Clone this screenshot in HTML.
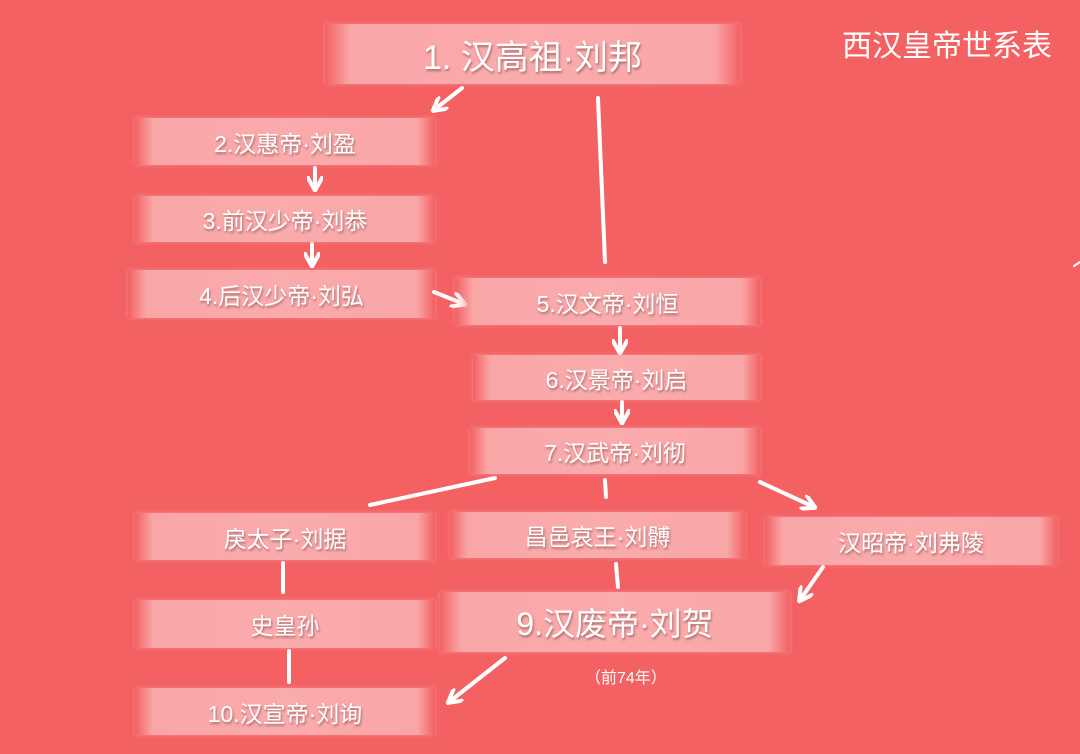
<!DOCTYPE html>
<html><head><meta charset="utf-8"><style>
body{margin:0;width:1080px;height:754px;background:#f36163;position:relative;overflow:hidden;font-family:"Liberation Sans","Noto Sans CJK SC",sans-serif}
.b{position:absolute;display:flex;align-items:center;justify-content:center;color:#fff;font-size:23px;text-shadow:1px 2px 2px rgba(120,70,70,.6);
background:linear-gradient(to right,rgba(250,170,172,0),#f9a6a7 6%,#faabac 50%,#f9a6a7 94%,rgba(250,170,172,0));
box-shadow:0 0 4px rgba(250,170,172,.6)}
svg{position:absolute;left:0;top:0}
</style></head><body>
<svg width="1080" height="754">
<defs><marker id="a" viewBox="0 0 10 10" refX="8" refY="5" markerWidth="4" markerHeight="4" orient="auto"><path d="M0,0 L9,5 L0,10" fill="none" stroke="#fff" stroke-width="2.5"/></marker></defs>
<g stroke="#fff" stroke-width="4" fill="none" stroke-linecap="round">
<line x1="462" y1="88" x2="434" y2="110" marker-end="url(#a)"/>
<line x1="598" y1="98" x2="605" y2="262"/>
<line x1="315" y1="168" x2="315" y2="189" marker-end="url(#a)"/>
<line x1="312" y1="244" x2="312" y2="265" marker-end="url(#a)"/>
<line x1="434" y1="292" x2="464" y2="304" marker-end="url(#a)"/>
<line x1="620" y1="328" x2="620" y2="352" marker-end="url(#a)"/>
<line x1="622" y1="402" x2="622" y2="422" marker-end="url(#a)"/>
<line x1="495" y1="478" x2="370" y2="505"/>
<line x1="605" y1="480" x2="606" y2="497"/>
<line x1="760" y1="482" x2="814" y2="507" marker-end="url(#a)"/>
<line x1="283" y1="563" x2="283" y2="592"/>
<line x1="616" y1="564" x2="618" y2="587"/>
<line x1="823" y1="567" x2="800" y2="600" marker-end="url(#a)"/>
<line x1="289" y1="651" x2="289" y2="682"/>
<line x1="505" y1="658" x2="449" y2="702" marker-end="url(#a)"/>
<line x1="1074" y1="266" x2="1080" y2="262" stroke-width="2"/>
</g></svg>
<div class="b" style="left:325px;top:24px;width:415px;height:60px;font-size:34px">1. 汉高祖·刘邦</div>
<div class="b" style="left:135px;top:118px;width:300px;height:47px">2.汉惠帝·刘盈</div>
<div class="b" style="left:135px;top:196px;width:300px;height:46px">3.前汉少帝·刘恭</div>
<div class="b" style="left:128px;top:270px;width:307px;height:48px">4.后汉少帝·刘弘</div>
<div class="b" style="left:455px;top:278px;width:305px;height:47px">5.汉文帝·刘恒</div>
<div class="b" style="left:473px;top:355px;width:287px;height:45px">6.汉景帝·刘启</div>
<div class="b" style="left:470px;top:428px;width:290px;height:46px">7.汉武帝·刘彻</div>
<div class="b" style="left:135px;top:513px;width:300px;height:47px">戾太子·刘据</div>
<div class="b" style="left:450px;top:512px;width:295px;height:46px">昌邑哀王·刘髆</div>
<div class="b" style="left:765px;top:517px;width:292px;height:48px">汉昭帝·刘弗陵</div>
<div class="b" style="left:135px;top:600px;width:300px;height:48px">史皇孙</div>
<div class="b" style="left:440px;top:592px;width:350px;height:60px;font-size:32px">9.汉废帝·刘贺</div>
<div class="b" style="left:135px;top:688px;width:300px;height:47px">10.汉宣帝·刘询</div>
<div style="position:absolute;left:585px;top:664px;color:#fff;font-size:16px">（前74年）</div>
<div style="position:absolute;left:842px;top:21px;color:#fff;font-size:30px">西汉皇帝世系表</div>
</body></html>
